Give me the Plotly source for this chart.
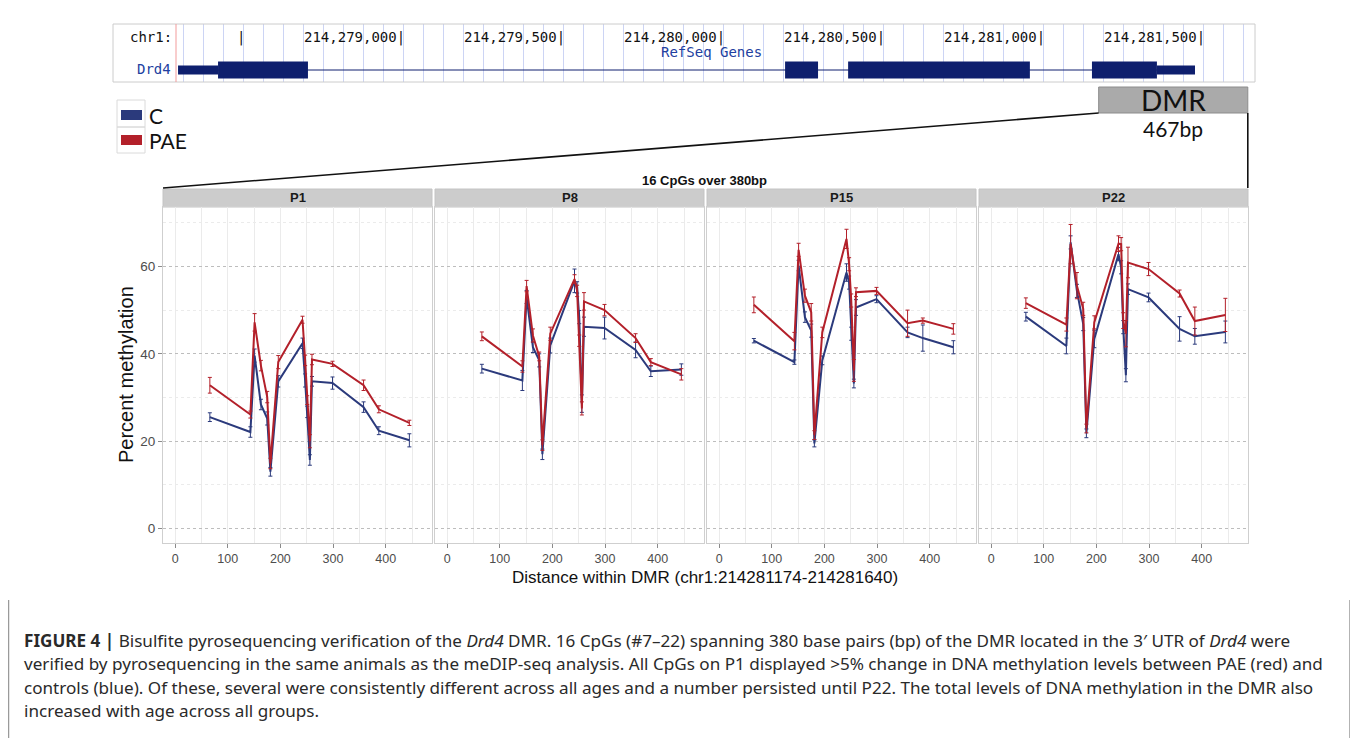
import plotly.graph_objects as go

# ---------------- data ----------------
cpg_positions = [66, 143, 151, 163, 175, 181, 196, 242, 247, 251, 256, 260, 299, 358, 387, 445]
ages = ["P1", "P8", "P15", "P22"]

c_p1 = [25.5, 22.1, 39.6, 28.4, 25.2, 13.0, 33.7, 42.4, 33.9, 26.7, 15.7, 33.7, 33.3, 27.8, 22.4, 20.2]
pae_p1 = [32.8, 26.1, 47.2, 37.3, 30.1, 14.9, 38.1, 47.8, 38.5, 29.4, 20.0, 38.7, 37.7, 32.8, 27.3, 24.2]
c_p8 = [36.6, 33.9, 53.0, 41.5, 38.5, 17.0, 41.9, 56.7, 55.2, 48.4, 28.6, 46.2, 45.9, 40.9, 36.0, 36.4]
pae_p8 = [44.0, 37.1, 55.5, 44.2, 39.4, 19.1, 44.6, 57.1, 54.4, 43.0, 27.5, 52.0, 50.0, 43.6, 38.1, 35.3]
c_p15 = [43.0, 38.1, 60.2, 48.4, 45.3, 19.5, 38.5, 58.6, 56.3, 44.6, 33.2, 50.6, 52.5, 44.9, 43.6, 41.5]
pae_p15 = [51.2, 42.9, 63.8, 53.3, 49.5, 21.4, 44.9, 66.3, 60.5, 52.2, 36.2, 54.1, 54.4, 47.0, 47.6, 45.7]
c_p22 = [48.5, 41.8, 65.5, 54.4, 46.8, 21.8, 43.4, 62.8, 59.8, 46.1, 35.1, 54.8, 52.9, 45.7, 44.0, 45.0]
pae_p22 = [51.6, 46.7, 65.1, 55.6, 50.3, 22.9, 47.2, 65.2, 65.1, 47.6, 44.6, 60.9, 59.4, 53.8, 47.5, 48.9]

c_p1_err = [1.0, 1.2, 1.5, 1.2, 1.5, 1.0, 1.3, 1.2, 1.5, 1.3, 1.2, 1.1, 1.4, 1.2, 0.9, 1.5]
pae_p1_err = [1.8, 0.8, 2.0, 1.2, 1.3, 1.2, 1.5, 0.8, 1.2, 1.0, 1.5, 1.2, 0.6, 1.2, 0.8, 0.6]
c_p8_err = [1.0, 2.3, 1.5, 1.2, 1.5, 1.2, 1.7, 2.7, 1.3, 1.5, 2.0, 2.2, 2.5, 1.8, 1.2, 1.3]
pae_p8_err = [1.0, 1.3, 1.3, 1.5, 1.0, 1.2, 1.5, 1.0, 1.3, 1.3, 1.5, 2.0, 1.3, 1.0, 0.8, 1.3]
c_p15_err = [0.5, 0.5, 1.2, 1.2, 1.5, 0.8, 1.0, 2.0, 1.5, 1.5, 1.0, 1.8, 0.8, 1.2, 3.0, 1.5]
pae_p15_err = [1.8, 2.0, 1.5, 1.5, 2.0, 1.0, 1.2, 2.2, 1.5, 1.5, 2.5, 1.0, 0.8, 3.0, 0.6, 1.2]
c_p22_err = [1.0, 1.8, 1.5, 1.5, 1.5, 1.0, 2.0, 1.5, 1.5, 1.5, 1.5, 1.2, 1.0, 2.8, 1.8, 2.5]
pae_p22_err = [1.2, 1.5, 4.5, 3.0, 1.5, 1.0, 1.5, 1.8, 1.5, 1.8, 3.0, 3.5, 1.5, 0.8, 3.2, 3.8]

x_ticks = [0, 100, 200, 300, 400]
x_minor = [50, 150, 250, 350, 450]
y_ticks = [0, 20, 40, 60]
y_minor = [10, 30, 50, 70]

# gene track (UCSC style)
genome_ticks = [214278500, 214279000, 214279500, 214280000, 214280500, 214281000, 214281500]
gene_start, gene_end = 214278297, 214281475
thick_exons = [(214278422, 214278703), (214280194, 214280297), (214280391, 214280959), (214281153, 214281356)]
thin_utrs = [(214278297, 214278422), (214281356, 214281475)]
dmr_start, dmr_end = 214281174, 214281640
dmr_len = dmr_end - dmr_start + 1

caption_lines = [
    "<b>FIGURE 4 |</b> Bisulfite pyrosequencing verification of the <i>Drd4</i> DMR. 16 CpGs (#7–22) spanning 380 base pairs (bp) of the DMR located in the 3′ UTR of <i>Drd4</i> were",
    "verified by pyrosequencing in the same animals as the meDIP-seq analysis. All CpGs on P1 displayed &gt;5% change in DNA methylation levels between PAE (red) and",
    "controls (blue). Of these, several were consistently different across all ages and a number persisted until P22. The total levels of DNA methylation in the DMR also",
    "increased with age across all groups.",
]

# ---------------- style ----------------
BLUE = "#2B3A7C"
RED = "#B3202A"
GRID = "#EBEBEB"
DOT = "#BDBDBD"
BORDER = "#CFCFCF"
NAVY = "#0E1F6E"
UCSC_BLUE = "#2140A0"
FONT = "Liberation Sans, Arial, sans-serif"
CAL = "Lato, Open Sans, sans-serif"
MONO = "DejaVu Sans Mono, monospace"

# page has an 8px body margin: figure occupies page pixels 8..1358, 8..738
OFF = 8
W, H = 1350, 730


def fx(px):
    return (px - OFF) / W


def fy(py):
    return 1 - (py - OFF) / H


# genome -> page pixel mapping for the gene track (0.32 px per bp)
TRACK_PX = (176, 1255)
BP_PER_PX = 1 / 0.32
G_REF_PX, G_REF = 403, 214279000


def gpx(pos):
    return G_REF_PX + (pos - G_REF) / BP_PER_PX


track_range = [G_REF + (TRACK_PX[0] - G_REF_PX) * BP_PER_PX, G_REF + (TRACK_PX[1] - G_REF_PX) * BP_PER_PX]

fig = go.Figure()
shapes = []
annotations = []
layout_axes = {}


def ann(text, x, y, size, family=FONT, color="#111111", xanchor="center", yanchor="middle",
        xref="paper", yref="paper", **kw):
    annotations.append(dict(text=text, x=x, y=y, xref=xref, yref=yref, xanchor=xanchor, yanchor=yanchor,
                            showarrow=False, font=dict(family=family, size=size, color=color), **kw))


c_means = [c_p1, c_p8, c_p15, c_p22]
pae_means = [pae_p1, pae_p8, pae_p15, pae_p22]
c_errs = [c_p1_err, c_p8_err, c_p15_err, c_p22_err]
pae_errs = [pae_p1_err, pae_p8_err, pae_p15_err, pae_p22_err]

panel_px = [(163, 432), (435, 704), (707, 976), (979, 1248)]
PANEL_TOP, PANEL_BOT = 207, 543
STRIP_TOP = 189

for i, age in enumerate(ages):
    k = "" if i == 0 else str(i + 1)
    for vals, errs, col, name in [(c_means[i], c_errs[i], BLUE, "C"), (pae_means[i], pae_errs[i], RED, "PAE")]:
        fig.add_trace(go.Scatter(
            x=cpg_positions, y=vals, mode="lines", name=name,
            line=dict(color=col, width=2),
            error_y=dict(type="data", array=errs, color=col, thickness=1, width=2),
            xaxis="x" + k, yaxis="y" + k, showlegend=False, hoverinfo="skip"))
    x0, x1 = panel_px[i]
    layout_axes["xaxis" + k] = dict(
        domain=[fx(x0), fx(x1)], range=[-23, 488], anchor="y" + k,
        tickvals=x_ticks, ticks="outside", ticklen=4, tickcolor="#8A8A8A",
        tickfont=dict(family=FONT, size=12.5, color="#4D4D4D"),
        showgrid=True, gridcolor=GRID, gridwidth=1,
        minor=dict(tickvals=x_minor, showgrid=True, gridcolor=GRID, gridwidth=1, ticks=""),
        showline=True, linecolor=BORDER, linewidth=1, mirror=True, zeroline=False, fixedrange=True)
    layout_axes["yaxis" + k] = dict(
        domain=[fy(PANEL_BOT), fy(PANEL_TOP)], range=[-3.3, 73.6], anchor="x" + k,
        tickvals=y_ticks, showticklabels=(i == 0), ticks="outside" if i == 0 else "",
        ticklen=4, tickcolor="#8A8A8A",
        tickfont=dict(family=FONT, size=13.5, color="#4D4D4D"),
        showgrid=True, gridcolor=DOT, gridwidth=1, griddash="dot",
        minor=dict(tickvals=y_minor, showgrid=True, gridcolor=GRID, gridwidth=1, ticks=""),
        showline=True, linecolor=BORDER, linewidth=1, mirror=True, zeroline=False, fixedrange=True)
    # facet strip
    shapes.append(dict(type="rect", xref="paper", yref="paper", x0=fx(x0), x1=fx(x1),
                       y0=fy(PANEL_TOP), y1=fy(STRIP_TOP), fillcolor="#CCCCCC",
                       line=dict(color="#C4C4C4", width=1), layer="below"))
    ann("<b>%s</b>" % age, fx((x0 + x1) / 2), fy((PANEL_TOP + STRIP_TOP) / 2), 13, color="#1A1A1A")

# ---------- gene track ----------
GENE_Y = 46  # offset from track top (page y 24)
fig.add_trace(go.Scatter(x=[gene_start, gene_end], y=[GENE_Y, GENE_Y], mode="lines",
                         line=dict(color=NAVY, width=1), xaxis="x5", yaxis="y5",
                         showlegend=False, hoverinfo="skip"))
layout_axes["xaxis5"] = dict(domain=[fx(TRACK_PX[0]), fx(TRACK_PX[1])], range=track_range, anchor="y5",
                             tick0=G_REF, dtick=62.5, showgrid=True, gridcolor="#CCD4F4", gridwidth=1,
                             showticklabels=False, ticks="", zeroline=False, showline=False, fixedrange=True)
layout_axes["yaxis5"] = dict(domain=[fy(82), fy(24)], range=[58, 0], anchor="x5",
                             showgrid=False, showticklabels=False, ticks="", zeroline=False,
                             showline=False, fixedrange=True)

shapes.append(dict(type="rect", xref="paper", yref="paper", x0=fx(113), x1=fx(1255), y0=fy(82), y1=fy(24),
                   line=dict(color="#CCCCCC", width=1)))
shapes.append(dict(type="line", xref="paper", yref="paper", x0=fx(176), x1=fx(176), y0=fy(82), y1=fy(24),
                   line=dict(color="#F29B9B", width=1)))
for a, b in thick_exons:
    shapes.append(dict(type="rect", xref="x5", yref="y5", x0=a, x1=b, y0=GENE_Y - 8.5, y1=GENE_Y + 8.5,
                       fillcolor=NAVY, line=dict(width=0)))
for a, b in thin_utrs:
    shapes.append(dict(type="rect", xref="x5", yref="y5", x0=a, x1=b, y0=GENE_Y - 4.5, y1=GENE_Y + 4.5,
                       fillcolor=NAVY, line=dict(width=0)))

for p in genome_ticks:
    label = "|" if p == genome_ticks[0] else "{:,}|".format(p)
    ann(label, p, fy(37), 14, family=MONO, xanchor="right", xref="x5", xshift=4)
ann("chr1:", fx(128), fy(37), 14, family=MONO, xanchor="left")
ann("RefSeq Genes", fx(712), fy(52), 14, family=MONO, color=UCSC_BLUE)
ann("Drd4", fx(173), fy(69), 14, family=MONO, color=UCSC_BLUE, xanchor="right")

# ---------- DMR box and zoom lines ----------
DMR_TOP, DMR_BOT = 87, 113
shapes.append(dict(type="rect", xref="x5", yref="paper", x0=dmr_start, x1=dmr_end,
                   y0=fy(DMR_BOT), y1=fy(DMR_TOP), fillcolor="#AAAAAA", line=dict(color="#8C8C8C", width=1)))
ann("DMR", (dmr_start + dmr_end) / 2, fy(100), 28, family=CAL, xref="x5")
ann("%dbp" % dmr_len, (dmr_start + dmr_end) / 2, fy(128), 21, family=CAL, xref="x5")
shapes.append(dict(type="line", xref="paper", yref="paper", x0=fx(gpx(dmr_start)), y0=fy(DMR_BOT),
                   x1=fx(panel_px[0][0]), y1=fy(STRIP_TOP - 1), line=dict(color="#111111", width=1.6)))
shapes.append(dict(type="line", xref="paper", yref="paper", x0=fx(gpx(dmr_end)), y0=fy(DMR_BOT),
                   x1=fx(gpx(dmr_end)), y1=fy(STRIP_TOP - 1), line=dict(color="#111111", width=1.6)))

# ---------- legend (manual) ----------
shapes.append(dict(type="rect", xref="paper", yref="paper", x0=fx(117), x1=fx(145), y0=fy(127), y1=fy(100),
                   line=dict(color="#DADADA", width=1)))
shapes.append(dict(type="rect", xref="paper", yref="paper", x0=fx(117), x1=fx(145), y0=fy(153), y1=fy(127),
                   line=dict(color="#DADADA", width=1)))
shapes.append(dict(type="rect", xref="paper", yref="paper", x0=fx(121), x1=fx(142), y0=fy(120), y1=fy(110),
                   fillcolor=BLUE, line=dict(width=0)))
shapes.append(dict(type="rect", xref="paper", yref="paper", x0=fx(121), x1=fx(142), y0=fy(145), y1=fy(135),
                   fillcolor=RED, line=dict(width=0)))
ann("C", fx(147), fy(115), 21, family=CAL, xanchor="left")
ann("PAE", fx(147), fy(140), 21, family=CAL, xanchor="left")

# ---------- titles ----------
ann("<b>16 CpGs over 380bp</b>", fx(705), fy(181), 13)
ann("Percent methylation", fx(126), fy(375), 20, textangle=-90)
ann("Distance within DMR (chr1:%d-%d)" % (dmr_start, dmr_end), fx(705), fy(577), 17)

# ---------- caption ----------
for j, line in enumerate(caption_lines):
    ann(line, fx(22), fy(640 + 23.5 * j), 17.1, family="Noto Sans, Open Sans, sans-serif",
        color="#2A2A2A", xanchor="left")
shapes.append(dict(type="line", xref="paper", yref="paper", x0=fx(8.5), x1=fx(8.5), y0=fy(745), y1=fy(600),
                   line=dict(color="#9A9A9A", width=1.5)))
shapes.append(dict(type="line", xref="paper", yref="paper", x0=fx(1350), x1=fx(1350), y0=fy(745), y1=fy(600),
                   line=dict(color="#9A9A9A", width=1.5)))

fig.update_layout(
    width=W, height=H, margin=dict(l=0, r=0, t=0, b=0),
    paper_bgcolor="white", plot_bgcolor="white",
    shapes=shapes, annotations=annotations, showlegend=False,
    **layout_axes)

fig.write_html("out.html", config=dict(displayModeBar=False))
